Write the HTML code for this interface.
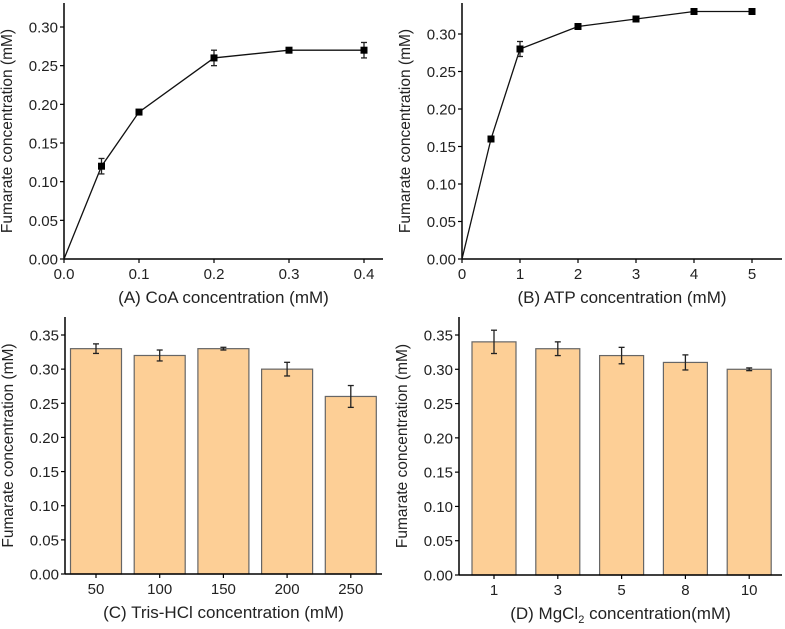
<!DOCTYPE html>
<html><head><meta charset="utf-8"><style>
html,body{margin:0;padding:0;background:#fff;}
svg{display:block;font-family:"Liberation Sans",Arial,sans-serif;}
</style></head><body>
<svg id="fig" width="785" height="629" viewBox="0 0 785 629"></svg>
<script>
// Panel A data
const aX = [0, 0.05, 0.1, 0.2, 0.3, 0.4];
const aY = [0, 0.12, 0.19, 0.26, 0.27, 0.27];
const aErr = [0, 0.01, 0.002, 0.01, 0.002, 0.01];
const aXTicks = [0, 0.1, 0.2, 0.3, 0.4];
const aXTickLabels = ["0.0","0.1","0.2","0.3","0.4"];
const aYTicks = [0,0.05,0.10,0.15,0.20,0.25,0.30];
// Panel B data
const bX = [0, 0.5, 1, 2, 3, 4, 5];
const bY = [0, 0.16, 0.28, 0.31, 0.32, 0.33, 0.33];
const bErr = [0, 0, 0.01, 0, 0, 0, 0];
const bXTicks = [0,1,2,3,4,5];
const bXTickLabels = ["0","1","2","3","4","5"];
const bYTicks = [0,0.05,0.10,0.15,0.20,0.25,0.30];
// Panel C data
const cCats = ["50","100","150","200","250"];
const cVals = [0.33, 0.32, 0.33, 0.30, 0.26];
const cErr = [0.007, 0.008, 0.002, 0.01, 0.016];
// Panel D data
const dCats = ["1","3","5","8","10"];
const dVals = [0.34, 0.33, 0.32, 0.31, 0.30];
const dErr = [0.017, 0.01, 0.012, 0.011, 0.002];
const barYTicks = [0,0.05,0.10,0.15,0.20,0.25,0.30,0.35];

const svg = document.getElementById('fig');
const NS = 'http://www.w3.org/2000/svg';
function mk(tag, attrs, parent, text){
  const e = document.createElementNS(NS, tag);
  for (const k in attrs) e.setAttribute(k, attrs[k]);
  if (text !== undefined) e.textContent = text;
  (parent||svg).appendChild(e);
  return e;
}

function axes(g, p, yTicks, xTicks, xLabels, xFn, title, titleHtml){
  const ya = mk('line',{x1:p.x0,y1:p.yTop,x2:p.x0,y2:p.y0,stroke:'#000','stroke-width':1.5},g);
  
  
  const xa = mk('line',{x1:p.x0,y1:p.y0,x2:p.xEnd,y2:p.y0,stroke:'#000','stroke-width':1.5},g);
  
  
  yTicks.forEach(v=>{
    const y = p.ys(v);
    mk('line',{x1:p.x0-4,y1:y,x2:p.x0,y2:y,stroke:'#000','stroke-width':1.2},g);
    const t = mk('text',{x:p.x0-6,y:y+5.5,'text-anchor':'end','font-size':15,fill:'#222'},g,v.toFixed(2));
    
    
  });
  xTicks.forEach((v,i)=>{
    const x = xFn(v,i);
    mk('line',{x1:x,y1:p.y0,x2:x,y2:p.y0+4,stroke:'#000','stroke-width':1.2},g);
    const t = mk('text',{x:x,y:p.y0+20,'text-anchor':'middle','font-size':15,fill:'#222'},g,xLabels[i]);
    
    
  });
  const cy = (p.yTop+p.y0)/2;
  const yt = mk('text',{x:0,y:0,'text-anchor':'middle','font-size':15.5,fill:'#222',transform:`translate(${p.x0-52},${cy}) rotate(-90)`},g,'Fumarate concentration (mM)');
  
  
  const xt = mk('text',{x:(p.x0+p.xEnd)/2,y:p.y0+44,'text-anchor':'middle','font-size':17,fill:'#222'},g);
  
  
  if (titleHtml){ titleHtml(xt); } else xt.textContent = title;
}

function errbar(g, x, ylo, yhi, w){
  if (Math.abs(yhi-ylo) < 0.5) return;
  mk('line',{x1:x,y1:ylo,x2:x,y2:yhi,stroke:'#222','stroke-width':1.3},g);
  mk('line',{x1:x-w,y1:ylo,x2:x+w,y2:ylo,stroke:'#222','stroke-width':1.3},g);
  mk('line',{x1:x-w,y1:yhi,x2:x+w,y2:yhi,stroke:'#222','stroke-width':1.3},g);
}

function linePanel(name, p, X, Y, E, xMax, xTicks, xLabels, yTicks, title){
  const g = mk('g',{});
  
  
  const xs = v => p.x0 + v/xMax*(p.xMaxPx-p.x0);
  axes(g,p,yTicks,xTicks,xLabels,v=>xs(v),title);
  const pts = X.map((v,i)=>xs(v)+','+p.ys(Y[i])).join(' ');
  const pl = mk('polyline',{points:pts,fill:'none',stroke:'#111','stroke-width':1.3},g);
  
  
  X.forEach((v,i)=>{
    const x = xs(v), y = p.ys(Y[i]);
    errbar(g,x,p.ys(Y[i]-E[i]),p.ys(Y[i]+E[i]),3);
    if (i>0){
      const r = mk('rect',{x:x-3.5,y:y-3.5,width:7,height:7,fill:'#000'},g);
      
      
    }
  });
}

function barPanel(name, p, cats, vals, errs, title, titleHtml){
  const g = mk('g',{});
  
  
  const xc = i => p.cx0 + i*p.step;
  vals.forEach((v,i)=>{
    const y = p.ys(v);
    const r = mk('rect',{x:xc(i)-p.bw/2,y:y,width:p.bw,height:p.y0-y,fill:'#fdcf96',stroke:'#666','stroke-width':1.2},g);
    
    
  });
  vals.forEach((v,i)=>errbar(g,xc(i),p.ys(v-errs[i]),p.ys(v+errs[i]),3));
  axes(g,p,barYTicks,cats.map((c,i)=>i),cats,(v,i)=>xc(i),title,titleHtml);
}

const pA = {x0:64,y0:259,yTop:3,xEnd:383,xMaxPx:364};
pA.ys = v => pA.y0 - v/0.30*(259-27);
linePanel('panel-a',pA,aX,aY,aErr,0.4,aXTicks,aXTickLabels,aYTicks,'(A) CoA concentration (mM)');

const pB = {x0:462,y0:259,yTop:3,xEnd:782,xMaxPx:752};
pB.ys = v => pB.y0 - v/0.30*(259-34);
linePanel('panel-b',pB,bX,bY,bErr,5,bXTicks,bXTickLabels,bYTicks,'(B) ATP concentration (mM)');

const pC = {x0:65,y0:574,yTop:317,xEnd:382,cx0:96,step:63.7,bw:51};
pC.ys = v => pC.y0 - v/0.35*(574-335);
barPanel('panel-c',pC,cCats,cVals,cErr,'(C) Tris-HCl concentration (mM)');

const pD = {x0:459,y0:575,yTop:317,xEnd:782,cx0:494,step:63.8,bw:44};
pD.ys = v => pD.y0 - v/0.35*(575-335);
barPanel('panel-d',pD,dCats,dVals,dErr,'',function(t){
  mk('tspan',{},t,'(D) MgCl');
  mk('tspan',{dy:4,'font-size':11},t,'2');
  mk('tspan',{dy:-4},t,' concentration(mM)');
});
</script>
</body></html>
